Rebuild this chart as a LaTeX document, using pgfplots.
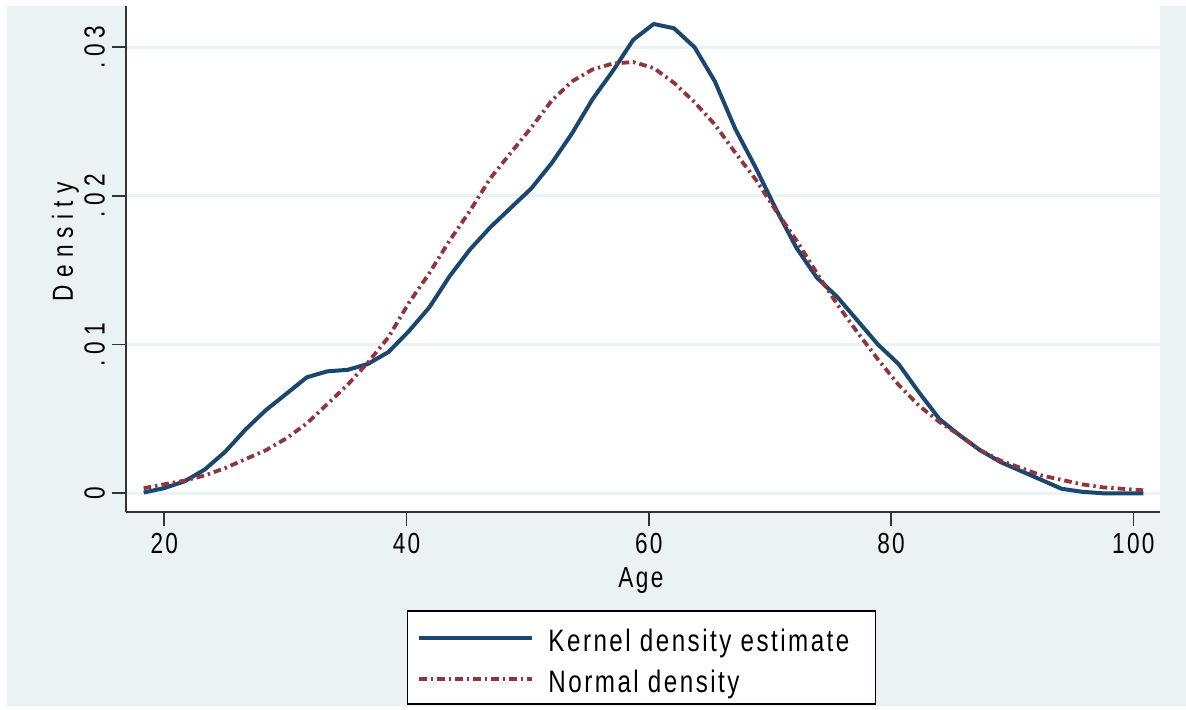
\documentclass[border=0pt]{standalone}
\usepackage{fontspec}
\setmainfont{Liberation Sans}[FakeStretch=0.78,LetterSpace=8]
\newfontfamily\yfont{Liberation Sans}[FakeStretch=0.78,LetterSpace=20]
\newfontfamily\ylabfont{Liberation Sans}[FakeStretch=0.78,LetterSpace=25]
\usepackage{pgfplots}
\usepackage{pgfplotstable}
\pgfplotsset{compat=1.18}
\definecolor{stnavy}{RGB}{26,71,111}
\definecolor{stmaroon}{RGB}{144,53,59}
\definecolor{stbg}{RGB}{234,242,243}

% age grid, kernel density, normal density
\pgfplotstableread{
x      kde      normal
18.30  0.00005  0.00034
19.98  0.00034  0.00060
21.67  0.00080  0.00085
23.35  0.00160  0.00120
25.04  0.00280  0.00170
26.72  0.00430  0.00230
28.40  0.00560  0.00290
30.09  0.00670  0.00370
31.77  0.00780  0.00470
33.46  0.00820  0.00600
35.14  0.00830  0.00730
36.82  0.00870  0.00880
38.51  0.00950  0.01050
40.19  0.01090  0.01280
41.88  0.01250  0.01480
43.56  0.01460  0.01700
45.24  0.01640  0.01900
46.93  0.01790  0.02120
48.61  0.01920  0.02290
50.30  0.02050  0.02460
51.98  0.02220  0.02640
53.66  0.02420  0.02770
55.35  0.02650  0.02850
57.03  0.02840  0.02890
58.72  0.03050  0.02900
60.40  0.03156  0.02860
62.08  0.03127  0.02760
63.77  0.03000  0.02630
65.45  0.02770  0.02480
67.14  0.02450  0.02290
68.82  0.02190  0.02110
70.50  0.01910  0.01900
72.19  0.01650  0.01700
73.87  0.01450  0.01480
75.56  0.01320  0.01270
77.24  0.01160  0.01080
78.92  0.01000  0.00900
80.61  0.00870  0.00730
82.29  0.00680  0.00590
83.98  0.00500  0.00480
85.66  0.00390  0.00390
87.34  0.00290  0.00290
89.03  0.00210  0.00220
90.71  0.00150  0.00170
92.40  0.00090  0.00120
94.08  0.00030  0.00090
95.76  0.00010  0.00060
97.45  0.00000  0.00040
99.13  0.00000  0.00030
100.82 0.00000  0.00020
}\dens

\begin{document}
\begin{tikzpicture}
\path[use as bounding box] (-63pt,-99pt) rectangle (530pt,256pt);
\fill[stbg] (-59.5pt,-97pt) rectangle (530pt,253pt);
\begin{axis}[
  at={(0pt,0pt)}, anchor=south west,
  width=517pt, height=253pt, scale only axis,
  xmin=16.84, xmax=102.2, ymin=-0.00126, ymax=0.03277,
  axis background/.style={fill=white},
  axis x line*=bottom, axis y line*=left,
  axis line style={black!80, line width=1pt},
  tick align=outside, major tick length=7pt,
  tick style={black!80, line width=0.8pt},
  xtick={20,40,60,80,100}, xticklabels={20,40,60,80,100},
  ytick={0,0.01,0.02,0.03}, yticklabels={0,.01,.02,.03},
  scaled y ticks=false,
  ymajorgrids, major grid style={stbg, line width=1.6pt},
  xticklabel style={font=\fontsize{14.5}{17}\selectfont},
  yticklabel style={font=\yfont\fontsize{14.5}{17}\selectfont, rotate=90, anchor=south},
  xlabel={Age}, ylabel={Density},
  xlabel style={at={(axis description cs:0.498,-0.150)}, anchor=base, font=\fontsize{14.5}{17}\selectfont},
  ylabel style={at={(axis description cs:-0.0513,0.534)}, anchor=base, font=\ylabfont\fontsize{14.5}{17}\selectfont},
  legend style={at={(axis description cs:0.4985,-0.1937)}, anchor=north,
    draw=black, line width=0.75pt, fill=white,
    font=\fontsize{15.5}{18}\selectfont,
    inner xsep=5pt, inner ysep=3pt, row sep=0.5pt,
    nodes={inner sep=0pt, text height=17.5pt, text depth=2.5pt},
    /tikz/every odd column/.append style={column sep=7pt}},
  legend cell align=left,
  legend image code/.code={\draw[#1] (0pt,-0.5pt) -- (56.5pt,-0.5pt);},
]
\addplot[stnavy, line width=2pt, line join=round] table[x=x, y=kde] {\dens};
\addplot[stmaroon, line width=1.9pt, dash pattern=on 3.8pt off 2pt on 1.2pt off 2pt] table[x=x, y=normal] {\dens};
\legend{Kernel density estimate\hspace*{8pt}, Normal density}
\end{axis}
\end{tikzpicture}
\end{document}
